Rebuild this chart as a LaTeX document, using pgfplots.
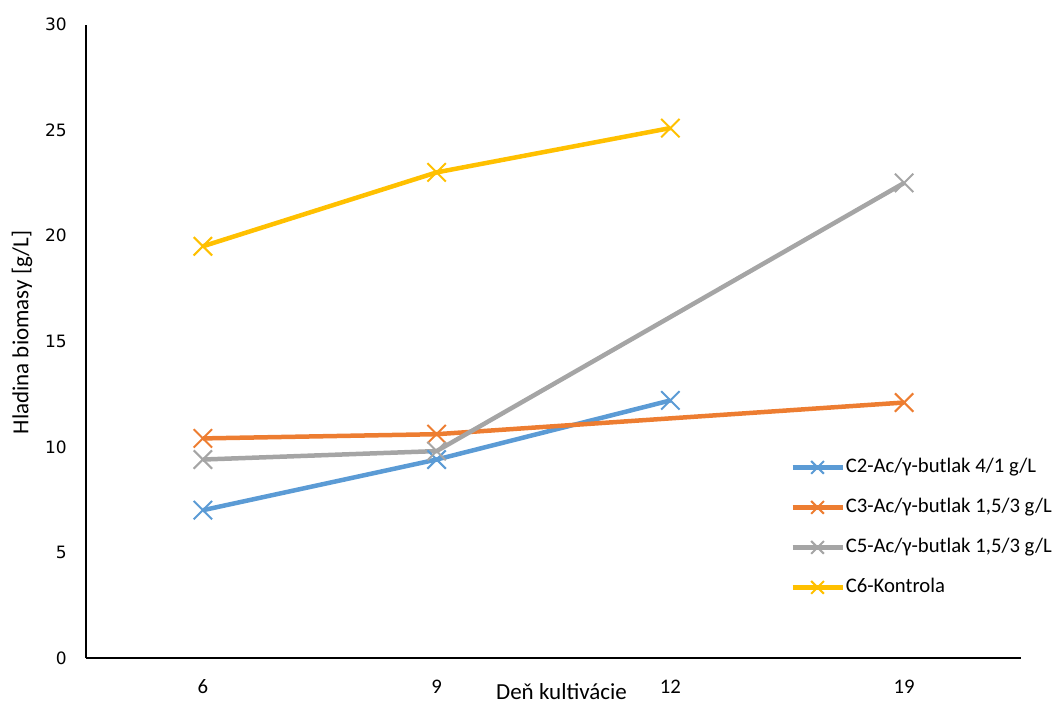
\documentclass[border=0pt]{standalone}
\usepackage{fontspec}
\setmainfont{Carlito}
\newfontfamily\yfont{DejaVu Sans}
\usepackage{pgfplots}
\pgfplotsset{compat=1.18}
\definecolor{cblue}{HTML}{5B9BD5}
\definecolor{corange}{HTML}{ED7D31}
\definecolor{cgray}{HTML}{A5A5A5}
\definecolor{cyellow}{HTML}{FFC000}
\begin{document}
\begin{tikzpicture}
\path[use as bounding box] (-86bp,-46bp) rectangle (969bp,658bp);
\begin{axis}[
  at={(0,0)}, anchor=south west,
  scale only axis, width=935bp, height=633.4bp,
  xmin=-0.5, xmax=3.5, ymin=0, ymax=30,
  axis x line*=bottom, axis y line*=left,
  axis line style={line width=1.5bp, black, -},
  major tick length=0pt,
  xtick={0,1,2,3}, xticklabels={6,9,12,19},
  ytick={0,5,...,30},
  xticklabel style={font=\fontsize{20.7bp}{24bp}\selectfont, anchor=center, yshift=-29bp, inner sep=0pt},
  yticklabel style={font=\fontsize{17bp}{20bp}\yfont, anchor=east, xshift=-19bp, inner sep=0pt},
  /pgf/number format/assume math mode=true,
  xlabel={Deň kultivácie},
  ylabel={Hladina biomasy [g/L]},
  x label style={font=\fontsize{23bp}{27bp}\selectfont, at={(axis description cs:0.5,0)}, anchor=center, yshift=-34bp, xshift=8bp, inner sep=0pt},
  y label style={font=\fontsize{23bp}{27bp}\selectfont, at={(axis description cs:0,0.514)}, anchor=center, yshift=64bp, inner sep=0pt},
  every axis plot/.append style={line width=4.5bp, mark=x, mark size=13bp, mark options={line width=2bp, solid}},
  legend style={at={(rel axis cs:0.753,0.317)}, anchor=north west, draw=none, fill=none,
    font=\fontsize{20.7bp}{24bp}\selectfont, inner sep=0pt,
    nodes={inner sep=1bp, text height=14bp, text depth=4bp},
    row sep=20bp, /tikz/every even column/.append style={column sep=0bp}},
  legend cell align=left,
  legend image code/.code={\draw[#1, mark repeat=2, mark phase=2, mark size=9bp] plot coordinates {(0bp,0bp) (25bp,0bp) (50bp,0bp)};},
  clip=false,
]
\addplot[color=cblue] coordinates {(0,7.0) (1,9.4) (2,12.2)};
\addlegendentry{C2-Ac/γ-butlak 4/1 g/L}
\addplot[color=corange] coordinates {(0,10.4) (1,10.6) (3,12.1)};
\addlegendentry{C3-Ac/γ-butlak 1,5/3 g/L}
\addplot[color=cgray] coordinates {(0,9.4) (1,9.8) (3,22.5)};
\addlegendentry{C5-Ac/γ-butlak 1,5/3 g/L}
\addplot[color=cyellow] coordinates {(0,19.5) (1,23.0) (2,25.1)};
\addlegendentry{C6-Kontrola}
\end{axis}
\end{tikzpicture}
\end{document}
